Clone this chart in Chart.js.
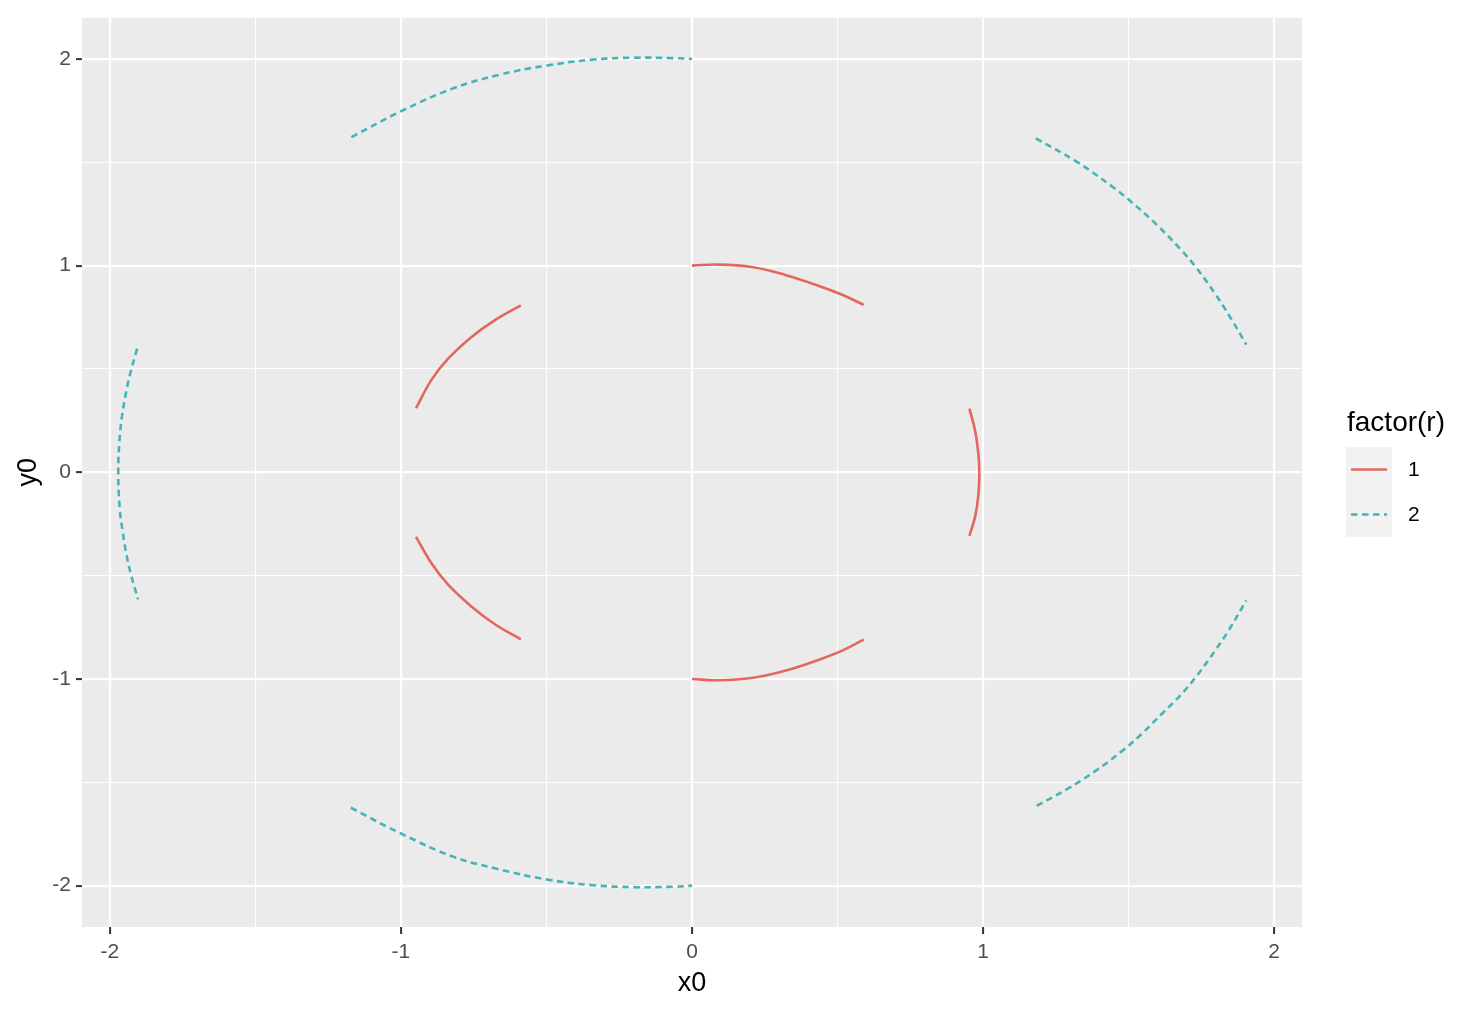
<!DOCTYPE html>
<html>
<head>
<meta charset="utf-8">
<script src="https://cdn.jsdelivr.net/npm/chart.js@4.4.1/dist/chart.umd.min.js"></script>
<style>
  html, body { margin: 0; padding: 0; background: #ffffff; }
  #wrap { width: 1478px; height: 1012px; position: relative; }
</style>
</head>
<body>
<div id="wrap"><canvas id="chart"></canvas></div>
<script>
// Arcs, [x0, y0] pairs, one array per arc
// r = 1
const arcR1Top = [[0.000, 1.000], [0.090, 1.005], [0.205, 0.993], [0.320, 0.955], [0.434, 0.903], [0.514, 0.860], [0.590, 0.810]];
const arcR1Right = [[0.953, 0.308], [0.973, 0.198], [0.984, 0.085], [0.987, 0.000], [0.984, -0.107], [0.973, -0.212], [0.953, -0.308]];
const arcR1Bottom = [[0.000, -1.000], [0.090, -1.006], [0.205, -0.995], [0.320, -0.960], [0.434, -0.908], [0.514, -0.864], [0.590, -0.810]];
const arcR1UpLeft = [[-0.588, 0.808], [-0.677, 0.736], [-0.757, 0.655], [-0.837, 0.551], [-0.895, 0.447], [-0.948, 0.310]];
const arcR1LowLeft = [[-0.948, -0.312], [-0.895, -0.440], [-0.837, -0.545], [-0.757, -0.650], [-0.677, -0.735], [-0.588, -0.808]];
// r = 2
const arcR2Top = [[-1.170, 1.622], [-0.998, 1.748], [-0.820, 1.858], [-0.660, 1.924], [-0.499, 1.968], [-0.339, 1.997], [-0.202, 2.006], [-0.064, 2.004], [0.000, 2.000]];
const arcR2UpRight = [[1.181, 1.616], [1.322, 1.502], [1.448, 1.378], [1.511, 1.306], [1.597, 1.197], [1.677, 1.081], [1.729, 0.996], [1.797, 0.864], [1.855, 0.736], [1.904, 0.618]];
const arcR2Left = [[-1.906, 0.598], [-1.931, 0.471], [-1.947, 0.366], [-1.959, 0.262], [-1.967, 0.149], [-1.971, 0.000], [-1.966, -0.172], [-1.956, -0.284], [-1.943, -0.397], [-1.926, -0.501], [-1.903, -0.615]];
const arcR2LowRight = [[1.184, -1.614], [1.288, -1.533], [1.385, -1.446], [1.477, -1.349], [1.540, -1.272], [1.620, -1.160], [1.677, -1.080], [1.729, -0.994], [1.797, -0.863], [1.843, -0.766], [1.904, -0.620]];
const arcR2Bottom = [[-1.172, -1.623], [-0.998, -1.749], [-0.820, -1.860], [-0.671, -1.918], [-0.499, -1.970], [-0.339, -1.998], [-0.202, -2.007], [-0.064, -2.005], [0.000, -2.000]];

const seriesNames = ['1', '2'];
const seriesArcs = [
  [arcR1Top, arcR1Right, arcR1Bottom, arcR1UpLeft, arcR1LowLeft],
  [arcR2Top, arcR2UpRight, arcR2Left, arcR2LowRight, arcR2Bottom]
];
const seriesColors = ['#E2675F', '#47B4B4'];
const seriesDashes = [[], [6.5, 4.5]];
const legendTitle = 'factor(r)';

const xTickValues = [-2, -1.5, -1, -0.5, 0, 0.5, 1, 1.5, 2];
const yTickValues = [-2, -1.5, -1, -0.5, 0, 0.5, 1, 1.5, 2];
const majorTicks = [-2, -1, 0, 1, 2];

const FONT = '"Liberation Sans", Arial, Helvetica, sans-serif';

// Build one line dataset per arc
const datasets = [];
seriesArcs.forEach((arcs, s) => {
  arcs.forEach(arc => {
    datasets.push({
      label: seriesNames[s],
      data: arc.map(p => ({ x: p[0], y: p[1] })),
      showLine: true,
      borderColor: seriesColors[s],
      borderWidth: 2.6,
      borderDash: seriesDashes[s],
      pointRadius: 0,
      tension: 0.4,
      fill: false
    });
  });
});

const isMajor = v => majorTicks.includes(v);

// grey panel background, like ggplot's theme_grey
const panelPlugin = {
  id: 'panelBg',
  beforeDraw(chart) {
    const { ctx, chartArea: a } = chart;
    ctx.save();
    ctx.fillStyle = '#ffffff';
    ctx.fillRect(0, 0, chart.width, chart.height);
    ctx.fillStyle = '#EBEBEB';
    ctx.fillRect(a.left, a.top, a.right - a.left, a.bottom - a.top);
    ctx.restore();
  }
};

// legend drawn by hand to look like the ggplot guide
const legendPlugin = {
  id: 'ggLegend',
  afterDraw(chart) {
    const ctx = chart.ctx;
    const left = chart.chartArea.right + 44;
    ctx.save();
    ctx.fillStyle = '#000000';
    ctx.font = '28px ' + FONT;
    ctx.textBaseline = 'alphabetic';
    ctx.fillText(legendTitle, left + 1, 431);
    seriesNames.forEach((name, i) => {
      const top = 447 + i * 45;
      ctx.fillStyle = '#F2F2F2';
      ctx.fillRect(left, top, 46, 45);
      ctx.strokeStyle = seriesColors[i];
      ctx.lineWidth = 2.6;
      ctx.setLineDash(seriesDashes[i]);
      ctx.beginPath();
      ctx.moveTo(left + 5, top + 22.5);
      ctx.lineTo(left + 41, top + 22.5);
      ctx.stroke();
      ctx.setLineDash([]);
      ctx.fillStyle = '#000000';
      ctx.font = '21px ' + FONT;
      ctx.textBaseline = 'middle';
      ctx.fillText(name, left + 62, top + 23);
    });
    ctx.restore();
  }
};

function gridOpts(tickLen) {
  return {
    color: '#ffffff',
    lineWidth: ctx => (ctx.tick && isMajor(ctx.tick.value)) ? 2.2 : 1.1,
    drawTicks: true,
    tickLength: tickLen,
    tickWidth: 2,
    tickColor: ctx => (ctx.tick && isMajor(ctx.tick.value)) ? '#333333' : 'rgba(0,0,0,0)'
  };
}

new Chart(document.getElementById('chart'), {
  type: 'scatter',
  data: { datasets: datasets },
  options: {
    responsive: true,
    maintainAspectRatio: false,
    animation: false,
    events: [],
    layout: { padding: { left: 0, right: 176, top: 14, bottom: 0 } },
    plugins: {
      legend: { display: false },
      tooltip: { enabled: false }
    },
    scales: {
      x: {
        type: 'linear',
        min: -2.0955,
        max: 2.0955,
        afterBuildTicks: s => { s.ticks = xTickValues.map(v => ({ value: v })); },
        afterFit: s => { s.height = 85; },
        border: { display: false },
        grid: gridOpts(7),
        ticks: {
          color: '#4D4D4D',
          font: { family: FONT, size: 21 },
          padding: 6,
          maxRotation: 0,
          autoSkip: false,
          callback: v => isMajor(v) ? String(v) : ''
        },
        title: {
          display: true,
          text: 'x0',
          color: '#000000',
          font: { family: FONT, size: 27 },
          padding: { top: 0, bottom: 12 }
        }
      },
      y: {
        type: 'linear',
        min: -2.2,
        max: 2.2,
        afterBuildTicks: s => { s.ticks = yTickValues.map(v => ({ value: v })); },
        afterFit: s => { s.width = 82; },
        border: { display: false },
        grid: gridOpts(6),
        ticks: {
          color: '#4D4D4D',
          font: { family: FONT, size: 21 },
          padding: 5,
          autoSkip: false,
          callback: v => isMajor(v) ? String(v) : ''
        },
        title: {
          display: true,
          text: 'y0',
          color: '#000000',
          font: { family: FONT, size: 27 },
          padding: { top: 12, bottom: 0 }
        }
      }
    }
  },
  plugins: [panelPlugin, legendPlugin]
});
</script>
</body>
</html>
